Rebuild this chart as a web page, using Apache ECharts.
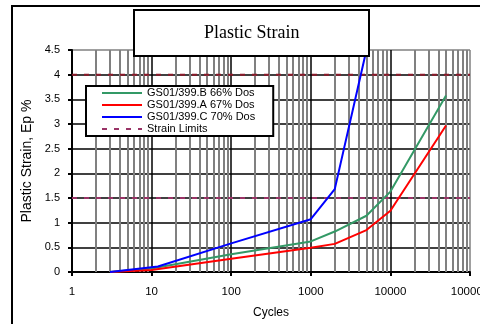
<!DOCTYPE html>
<html>
<head>
<meta charset="utf-8">
<script src="https://cdn.jsdelivr.net/npm/echarts@6/dist/echarts.min.js"></script>
<style>
  html, body { margin: 0; padding: 0; background: #fff; }
  #chart { width: 480px; height: 324px; }
</style>
</head>
<body>
<div id="chart"></div>
<script>
// data
const cycles = [3, 10, 100, 1000, 2000, 5000, 10000, 50000];
const strainB = [0, 0.07, 0.36, 0.62, 0.82, 1.14, 1.63, 3.58];
const strainA = [0, 0.04, 0.27, 0.49, 0.57, 0.85, 1.24, 2.97];
const cyclesC = [3, 12, 100, 1000, 2000, 5000];
const strainC = [0, 0.11, 0.58, 1.07, 1.68, 4.5];
const limitLevels = [1.5, 4];
const limitSpan = [1, 100000];
const seriesNames = ['GS01/399.B 66% Dos', 'GS01/399.A 67% Dos', 'GS01/399.C 70% Dos', 'Strain Limits'];

// minor log grid lines at 2..9 of each decade
const decades = [1, 10, 100, 1000, 10000];
const minorSteps = [2, 3, 4, 5, 6, 7, 8, 9];
const minorGrid = [];
decades.forEach((d) => minorSteps.forEach((m) => minorGrid.push(d * m)));

const font = 'Liberation Sans, Arial, sans-serif';
const pairs = (xs, ys) => xs.map((x, i) => [x, ys[i]]);

const chart = echarts.init(document.getElementById('chart'));

const limitColors = ['#993366', '#8b1a2a'];
const limitSeries = limitLevels.map((lvl, i) => ({
  name: 'Strain Limits',
  type: 'line',
  z: 3,
  symbol: 'none',
  showSymbol: false,
  silent: true,
  color: limitColors[i],
  lineStyle: { color: limitColors[i], width: 2, type: [5, 7] },
  data: limitSpan.map((x) => [x, lvl]),
}));

chart.setOption({
  animation: false,
  graphic: [
    {
      type: 'rect',
      shape: { x: 12, y: 6, width: 600, height: 600 },
      style: { fill: 'none', stroke: '#000', lineWidth: 2 },
      z: 100,
    },
  ],
  title: {
    text: 'Plastic Strain',
    left: 134,
    top: 10,
    z: 20,
    padding: [14, 70, 14, 70],
    borderWidth: 2,
    borderColor: '#000',
    backgroundColor: '#fff',
    textStyle: { fontFamily: 'Liberation Serif, Times New Roman, serif', fontSize: 18, fontWeight: 'normal', color: '#000' },
  },
  legend: {
    data: seriesNames,
    orient: 'vertical',
    left: 86,
    top: 86,
    z: 20,
    padding: [1, 18, 1, 15],
    itemGap: 0,
    itemWidth: 40,
    itemHeight: 10,
    backgroundColor: '#fff',
    borderColor: '#000',
    borderWidth: 2,
    itemStyle: { color: 'rgba(0,0,0,0)', borderWidth: 0, opacity: 0 },
    textStyle: { fontFamily: font, fontSize: 11, color: '#000', lineHeight: 12 },
  },
  grid: { left: 72, right: 10, top: 50, bottom: 52, outerBoundsMode: 'none', containLabel: false },
  xAxis: {
    type: 'log',
    logBase: 10,
    min: 1,
    max: 100000,
    name: 'Cycles',
    nameLocation: 'middle',
    nameGap: 35,
    nameTextStyle: { fontFamily: font, fontSize: 12, color: '#000' },
    axisLine: { lineStyle: { color: '#000', width: 2 } },
    axisTick: { show: true, length: 4, lineStyle: { color: '#000', width: 2 } },
    axisLabel: {
      margin: 14,
      fontFamily: font,
      fontSize: 11.5,
      color: '#000',
      formatter: (v) => String(Math.round(v)),
    },
    splitLine: {
      show: true,
      lineStyle: { color: ['#000', '#000', '#000', '#000', '#000', '#808080'], width: 1.5 },
    },
  },
  yAxis: {
    type: 'value',
    min: 0,
    max: 4.5,
    interval: 0.5,
    name: 'Plastic Strain, Ep %',
    nameLocation: 'middle',
    nameGap: 34,
    nameTextStyle: { fontFamily: font, fontSize: 14, color: '#000' },
    axisLine: { show: true, lineStyle: { color: '#000', width: 2 } },
    axisTick: { show: true, length: 4, lineStyle: { color: '#000', width: 2 } },
    axisLabel: { margin: 12, fontFamily: font, fontSize: 11, color: '#000' },
    splitLine: {
      show: true,
      lineStyle: {
        color: ['#000', '#000', '#000', '#000', '#000', '#000', '#000', '#000', '#000', '#808080'],
        width: 1.5,
      },
    },
  },
  series: [
    {
      name: 'minor grid',
      type: 'line',
      z: 1,
      data: [],
      silent: true,
      markLine: {
        z: 1,
        silent: true,
        animation: false,
        symbol: ['none', 'none'],
        label: { show: false },
        lineStyle: { color: '#808080', width: 2, type: 'solid' },
        data: minorGrid.map((x) => ({ xAxis: x })),
      },
    },
    {
      name: seriesNames[0],
      type: 'line',
      z: 4,
      symbol: 'none',
      color: '#339966',
      lineStyle: { width: 2, color: '#339966' },
      data: pairs(cycles, strainB),
    },
    {
      name: seriesNames[1],
      type: 'line',
      z: 4,
      symbol: 'none',
      color: '#ff0000',
      lineStyle: { width: 2, color: '#ff0000' },
      data: pairs(cycles, strainA),
    },
    {
      name: seriesNames[2],
      type: 'line',
      z: 4,
      symbol: 'none',
      color: '#0000ff',
      lineStyle: { width: 2, color: '#0000ff' },
      data: pairs(cyclesC, strainC),
    },
    ...limitSeries,
  ],
});
</script>
</body>
</html>
